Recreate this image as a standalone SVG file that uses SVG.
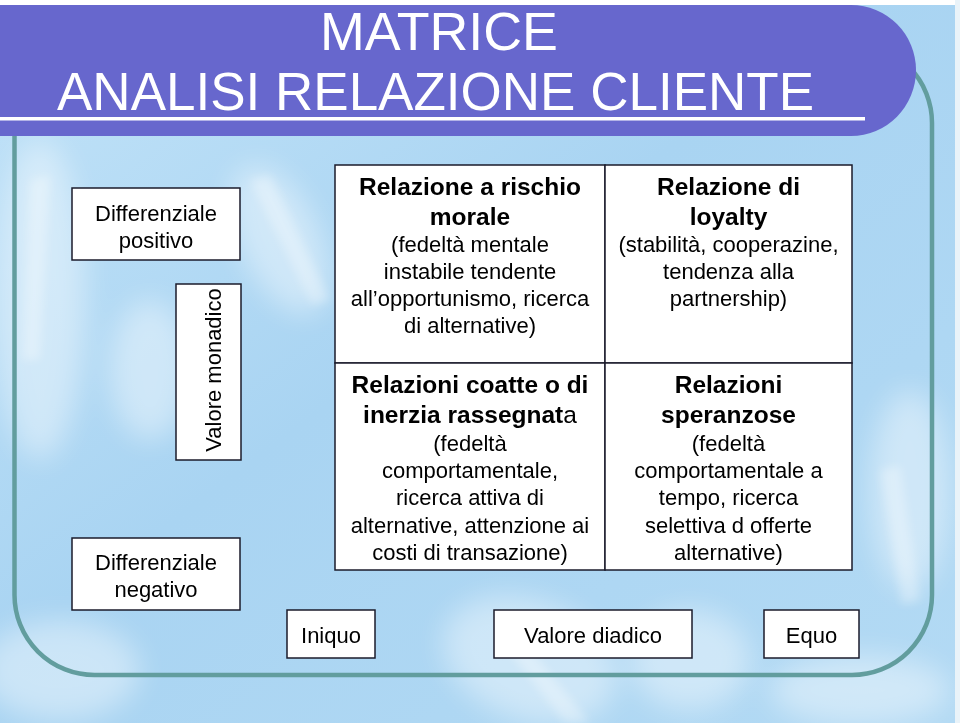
<svg xmlns="http://www.w3.org/2000/svg" width="960" height="723" viewBox="0 0 960 723">
  <defs>
    <linearGradient id="bg" x1="0" y1="0" x2="1" y2="1">
      <stop offset="0" stop-color="#c2e3f8"/>
      <stop offset="0.45" stop-color="#a9d4f2"/>
      <stop offset="1" stop-color="#b3daf4"/>
    </linearGradient>
    <filter id="blur" x="-30%" y="-30%" width="160%" height="160%">
      <feGaussianBlur stdDeviation="14"/>
    </filter>
    <filter id="blur2" x="-30%" y="-30%" width="160%" height="160%">
      <feGaussianBlur stdDeviation="5"/>
    </filter>
  </defs>
  <style>
    .t { font-family: "Liberation Sans", Arial, sans-serif; fill: #000; text-anchor: middle; }
    .r { font-size: 22px; }
    .b { font-size: 24.5px; font-weight: bold; }
    .title { font-family: "Liberation Sans", Arial, sans-serif; fill: #fff; }
    .box { fill: #fff; stroke: #1b1b2b; stroke-width: 1.5; }
  </style>

  <!-- background -->
  <rect x="0" y="0" width="960" height="723" fill="#ffffff"/>
  <rect x="0" y="5" width="955" height="718" fill="url(#bg)"/>
  <g opacity="0.4" filter="url(#blur)" fill="#ffffff">
    <ellipse cx="40" cy="300" rx="45" ry="160"/>
    <ellipse cx="280" cy="240" rx="40" ry="80" transform="rotate(-25 280 240)"/>
    <ellipse cx="150" cy="370" rx="40" ry="70"/>
    <ellipse cx="530" cy="660" rx="90" ry="60" transform="rotate(20 530 660)"/>
    <ellipse cx="690" cy="660" rx="60" ry="50"/>
    <ellipse cx="910" cy="490" rx="40" ry="100"/>
    <ellipse cx="60" cy="670" rx="80" ry="50"/>
    <ellipse cx="860" cy="690" rx="90" ry="35"/>
  </g>
  <g opacity="0.3" filter="url(#blur2)" fill="#ffffff">
    <polygon points="250,180 270,175 330,300 312,305"/>
    <polygon points="30,180 50,175 40,360 22,360"/>
    <polygon points="500,640 520,636 590,723 565,723"/>
    <polygon points="880,470 900,465 920,600 902,605"/>
  </g>
  <rect x="955" y="0" width="5" height="723" fill="#e9f3f9"/>

  <!-- frame -->
  <rect x="14.5" y="43" width="917.5" height="632" rx="80" ry="80" fill="none" stroke="#629d9e" stroke-width="4.5"/>

  <!-- header banner -->
  <g id="header">
    <path d="M0,5 H851 A65,65 0 0 1 916,70 A65,66 0 0 1 851,136 H0 Z" fill="#6767cd"/>
    <text class="title" x="320" y="50" font-size="53" textLength="238" lengthAdjust="spacingAndGlyphs">MATRICE</text>
    <text class="title" x="57" y="110" font-size="53" textLength="757" lengthAdjust="spacingAndGlyphs">ANALISI RELAZIONE CLIENTE</text>
    <rect x="0" y="117" width="865" height="3.5" fill="#ffffff"/>
  </g>

  <!-- left axis -->
  <g id="diff-positivo">
    <rect class="box" x="72" y="188" width="168" height="72"/>
    <text class="t r" x="156" y="221">Differenziale</text>
    <text class="t r" x="156" y="248">positivo</text>
  </g>
  <g id="valore-monadico">
    <rect class="box" x="176" y="284" width="65" height="176"/>
    <text class="t r" transform="translate(221,370) rotate(-90)" x="0" y="0">Valore monadico</text>
  </g>
  <g id="diff-negativo">
    <rect class="box" x="72" y="538" width="168" height="72"/>
    <text class="t r" x="156" y="570">Differenziale</text>
    <text class="t r" x="156" y="597">negativo</text>
  </g>

  <!-- matrix -->
  <g id="cell-rischio-morale">
    <rect class="box" x="335" y="165" width="270" height="198"/>
    <text class="t b" x="470" y="195">Relazione a rischio</text>
    <text class="t b" x="470" y="225">morale</text>
    <text class="t r" x="470" y="252">(fedeltà mentale</text>
    <text class="t r" x="470" y="279">instabile tendente</text>
    <text class="t r" x="470" y="306">all’opportunismo, ricerca</text>
    <text class="t r" x="470" y="333">di alternative)</text>
  </g>
  <g id="cell-loyalty">
    <rect class="box" x="605" y="165" width="247" height="198"/>
    <text class="t b" x="728.5" y="195">Relazione di</text>
    <text class="t b" x="728.5" y="225">loyalty</text>
    <text class="t r" x="728.5" y="252">(stabilità, cooperazine,</text>
    <text class="t r" x="728.5" y="279">tendenza alla</text>
    <text class="t r" x="728.5" y="306">partnership)</text>
  </g>
  <g id="cell-coatte">
    <rect class="box" x="335" y="363" width="270" height="207"/>
    <text class="t b" x="470" y="393">Relazioni coatte o di</text>
    <text class="t b" x="470" y="423">inerzia rassegnat<tspan font-weight="normal">a</tspan></text>
    <text class="t r" x="470" y="451">(fedeltà</text>
    <text class="t r" x="470" y="478">comportamentale,</text>
    <text class="t r" x="470" y="505">ricerca attiva di</text>
    <text class="t r" x="470" y="533">alternative, attenzione ai</text>
    <text class="t r" x="470" y="560">costi di transazione)</text>
  </g>
  <g id="cell-speranzose">
    <rect class="box" x="605" y="363" width="247" height="207"/>
    <text class="t b" x="728.5" y="393">Relazioni</text>
    <text class="t b" x="728.5" y="423">speranzose</text>
    <text class="t r" x="728.5" y="451">(fedeltà</text>
    <text class="t r" x="728.5" y="478">comportamentale a</text>
    <text class="t r" x="728.5" y="505">tempo, ricerca</text>
    <text class="t r" x="728.5" y="533">selettiva d offerte</text>
    <text class="t r" x="728.5" y="560">alternative)</text>
  </g>

  <!-- bottom axis -->
  <g id="iniquo">
    <rect class="box" x="287" y="610" width="88" height="48"/>
    <text class="t r" x="331" y="643">Iniquo</text>
  </g>
  <g id="valore-diadico">
    <rect class="box" x="494" y="610" width="198" height="48"/>
    <text class="t r" x="593" y="643">Valore diadico</text>
  </g>
  <g id="equo">
    <rect class="box" x="764" y="610" width="95" height="48"/>
    <text class="t r" x="811.5" y="643">Equo</text>
  </g>

  <g id="connectors"></g>
</svg>
